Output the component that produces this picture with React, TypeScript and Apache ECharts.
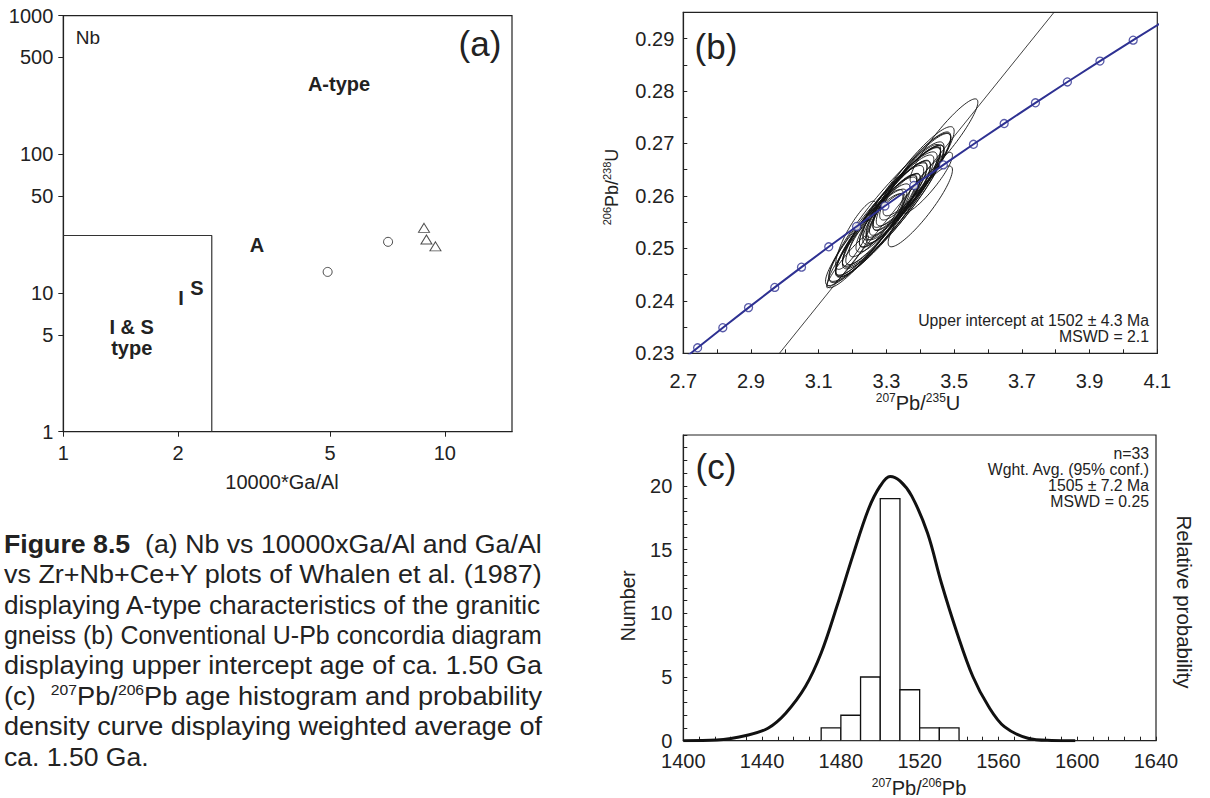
import React, { useEffect, useRef } from "react";
import * as echarts from "echarts";

// ---------- Panel (a): Nb vs 10000*Ga/Al (Whalen et al. 1987) ----------
const aCircleGaAl = [4.93, 7.1];
const aCircleNb = [14.2, 23.4];
const aTriangleGaAl = [8.82, 8.95, 9.45];
const aTriangleNb = [29.5, 24.3, 21.7];
const aFieldGaAl = [1, 2.45, 2.45];
const aFieldNb = [26, 26, 1];
const aXTicks = [1, 2, 5, 10];
const aYTicks = [1, 5, 10, 50, 100, 500, 1000];

// ---------- Panel (b): concordia ----------
const concordiaAge = [1330, 1340, 1360, 1380, 1400, 1420, 1440, 1460, 1480, 1500, 1520, 1540, 1560, 1580, 1600, 1620, 1640, 1660];
const concordiaPb207U235 = [2.7056, 2.7423, 2.8167, 2.8927, 2.9701, 3.0491, 3.1296, 3.2118, 3.2955, 3.381, 3.4681, 3.557, 3.6477, 3.7401, 3.8344, 3.9306, 4.0287, 4.1287];
const concordiaPb206U238 = [0.22914, 0.23105, 0.23488, 0.23871, 0.24256, 0.24642, 0.2503, 0.25418, 0.25808, 0.26199, 0.26591, 0.26984, 0.27379, 0.27775, 0.28172, 0.2857, 0.28969, 0.2937];
const concordiaLabelAges = [1400, 1460, 1560, 1600];
const discordiaPb207U235 = [2.984, 3.795];
const discordiaPb206U238 = [0.23, 0.295];
// error ellipses: centre x, centre y, half-extent in x, half-extent in y, correlation
const ellX = [3.24, 3.47, 3.42, 3.4, 3.21, 3.185, 3.27, 3.29, 3.31, 3.33, 3.32, 3.35, 3.3, 3.28, 3.34, 3.36, 3.25, 3.38, 3.31, 3.32, 3.36, 3.26, 3.32, 3.34, 3.29, 3.39, 3.24, 3.37, 3.3, 3.33, 3.27, 3.38, 3.33];
const ellY = [0.2515, 0.2705, 0.2625, 0.258, 0.2525, 0.2475, 0.2541, 0.2556, 0.2574, 0.2588, 0.2579, 0.2604, 0.2566, 0.2551, 0.2598, 0.2614, 0.2526, 0.2631, 0.2571, 0.2576, 0.2618, 0.2536, 0.2583, 0.26, 0.2562, 0.2642, 0.2521, 0.2626, 0.257, 0.2592, 0.2548, 0.2636, 0.259];
const ellSx = [0.115, 0.1, 0.075, 0.095, 0.06, 0.062, 0.12, 0.11, 0.14, 0.1, 0.15, 0.11, 0.09, 0.15, 0.12, 0.1, 0.1, 0.11, 0.16, 0.08, 0.13, 0.11, 0.07, 0.08, 0.12, 0.1, 0.12, 0.09, 0.17, 0.09, 0.08, 0.12, 0.11];
const ellSy = [0.009, 0.008, 0.0058, 0.0077, 0.0065, 0.005, 0.0095, 0.0087, 0.011, 0.008, 0.0118, 0.0088, 0.0073, 0.0116, 0.0095, 0.008, 0.0078, 0.0088, 0.0126, 0.0066, 0.0102, 0.0087, 0.0058, 0.0065, 0.0096, 0.008, 0.0092, 0.0072, 0.0133, 0.0071, 0.0064, 0.0096, 0.0088];
const ellRho = [0.93, 0.92, 0.9, 0.9, 0.85, 0.95, 0.9, 0.91, 0.91, 0.89, 0.92, 0.9, 0.88, 0.92, 0.91, 0.89, 0.9, 0.9, 0.93, 0.87, 0.91, 0.9, 0.86, 0.87, 0.91, 0.89, 0.91, 0.88, 0.93, 0.88, 0.87, 0.91, 0.9];

// ---------- Panel (c): 207Pb/206Pb histogram ----------
const binStart = [1470, 1480, 1490, 1500, 1510, 1520, 1530];
const binEnd = [1480, 1490, 1500, 1510, 1520, 1530, 1540];
const binCount = [1, 2, 5, 19, 4, 1, 1];
const probAge = [1400, 1417, 1433, 1443, 1452, 1462, 1470, 1478, 1486, 1494, 1500, 1505, 1510, 1516, 1524, 1531, 1539, 1547, 1555, 1563, 1575, 1587, 1599];
const probValue = [0, 0.05, 0.45, 0.98, 2.16, 4.25, 6.88, 10.55, 14.49, 18.17, 20.0, 20.74, 20.39, 19.2, 16.3, 12.4, 8.46, 5.04, 2.68, 1.1, 0.19, 0.02, 0];

const captionLines = [
  [{ t: "Figure 8.5", b: true }, { t: "  (a) Nb vs 10000xGa/Al and Ga/Al" }],
  [{ t: "vs Zr+Nb+Ce+Y plots of Whalen et al. (1987)" }],
  [{ t: "displaying A-type characteristics of the granitic" }],
  [{ t: "gneiss (b) Conventional U-Pb concordia diagram" }],
  [{ t: "displaying upper intercept age of ca. 1.50 Ga" }],
  [{ t: "(c)  " }, { t: "207", s: true }, { t: "Pb/" }, { t: "206", s: true }, { t: "Pb age histogram and probability" }],
  [{ t: "density curve displaying weighted average of" }],
  [{ t: "ca. 1.50 Ga." }],
];

const FONT = '"Liberation Sans", Arial, sans-serif';
const NARROW = '"Liberation Sans Narrow", "Liberation Sans", Arial, sans-serif';
const INK = "#222";

export default function App() {
  const ref = useRef<HTMLDivElement>(null);
  useEffect(() => {
    if (!ref.current) return;
    const chart = echarts.init(ref.current, null, { renderer: "svg" });
    const lg = (v: number) => Math.log10(v);

    const canvas = document.createElement("canvas");
    const ctx = canvas.getContext("2d")!;
    const measure = (t: string, size: number, bold: boolean) => {
      ctx.font = `${bold ? "bold " : ""}${size}px ${NARROW}`;
      return ctx.measureText(t).width;
    };
    const CAP_SIZE = 26, SUP_SIZE = 15;
    const capLeft = 4, capWidth = 538;
    const widths = captionLines.map((segs) =>
      segs.reduce((acc: number, s: any) => acc + measure(s.t, s.s ? SUP_SIZE : CAP_SIZE, !!s.b), 0)
    );
    const scales = widths.map((w) => capWidth / w);
    const baseScale = scales.slice(0, 7).reduce((a, b) => a + b, 0) / 7;
    const captionGraphics = captionLines.map((segs: any[], i) => ({
      type: "text",
      x: capLeft,
      y: 544 + i * 30.4,
      scaleX: i === captionLines.length - 1 ? baseScale : scales[i],
      style: {
        text: segs.map((s) => `{${s.b ? "b" : s.s ? "s" : "n"}|${s.t}}`).join(""),
        align: "left",
        verticalAlign: "middle",
        rich: {
          n: { fontFamily: NARROW, fontSize: CAP_SIZE, lineHeight: 28, fill: INK, verticalAlign: "middle" },
          b: { fontFamily: NARROW, fontSize: CAP_SIZE, fontWeight: "bold", lineHeight: 28, fill: INK, verticalAlign: "middle" },
          s: { fontFamily: NARROW, fontSize: SUP_SIZE, lineHeight: 17, fill: INK, verticalAlign: "top" },
        },
      },
    }));

    const txt = (x: number, y: number, text: string, size: number, extra: any = {}) => ({
      type: "text",
      x,
      y,
      rotation: extra.rotation || 0,
      style: {
        text,
        fontFamily: FONT,
        fontSize: size,
        fontWeight: extra.bold ? "bold" : "normal",
        fill: INK,
        align: extra.align || "center",
        verticalAlign: "middle",
        rich: extra.rich,
      },
    });

    const isoRich = (main: number, sup: number) => ({
      m: { fontFamily: FONT, fontSize: main, lineHeight: main + 3, fill: INK, verticalAlign: "middle" },
      s: { fontFamily: FONT, fontSize: sup, lineHeight: sup + 1, fill: INK, verticalAlign: "top" },
    });

    const axisLine = { show: true, lineStyle: { color: INK, width: 1.2 } };
    const labelBase = { fontFamily: FONT, fontSize: 20, color: INK };

    const ellipseData = ellX.map((x, i) => [x, ellY[i], ellSx[i], ellSy[i], ellRho[i]]);
    const concLine = concordiaAge.map((a, i) => [concordiaPb207U235[i], concordiaPb206U238[i]]);
    const concMarkers = concordiaAge
      .map((a, i) => [concordiaPb207U235[i], concordiaPb206U238[i], a])
      .filter((d) => d[2] >= 1340 && d[2] <= 1640);
    const concLabels = concMarkers.filter((d) => concordiaLabelAges.includes(d[2]));

    const option: any = {
      animation: false,
      backgroundColor: "#fff",
      grid: [
        { left: 63.3, top: 15.7, width: 448.7, height: 416, show: true, borderColor: INK, borderWidth: 1.2, backgroundColor: "transparent" },
        { left: 683.3, top: 12.3, width: 474, height: 341, show: true, borderColor: INK, borderWidth: 1.2, backgroundColor: "transparent" },
        { left: 683.3, top: 435, width: 472.7, height: 305.7, show: true, borderColor: INK, borderWidth: 1.2, backgroundColor: "transparent" },
      ],
      xAxis: [
        {
          gridIndex: 0, type: "value", min: 0, max: lg(15),
          axisLine, splitLine: { show: false },
          axisTick: { show: true, customValues: aXTicks.map(lg), length: 5, lineStyle: { color: INK } },
          axisLabel: { ...labelBase, margin: 11, customValues: aXTicks.map(lg), formatter: (v: number) => String(Math.round(Math.pow(10, v))) },
        },
        {
          gridIndex: 1, type: "value", min: 2.7, max: 4.1, interval: 0.1,
          axisLine, splitLine: { show: false },
          axisTick: { show: true, inside: true, length: 4, lineStyle: { color: INK } },
          axisLabel: { ...labelBase, margin: 18, formatter: (v: number) => (Math.round(v * 10) % 2 === 1 ? v.toFixed(1) : "") },
        },
        {
          gridIndex: 2, type: "value", min: 1400, max: 1640, interval: 8,
          axisLine, splitLine: { show: false },
          axisTick: { show: true, inside: true, length: 4, lineStyle: { color: INK } },
          axisLabel: { ...labelBase, margin: 10, formatter: (v: number) => (Math.round(v) % 40 === 0 ? String(Math.round(v)) : "") },
        },
      ],
      yAxis: [
        {
          gridIndex: 0, type: "value", min: 0, max: 3,
          axisLine, splitLine: { show: false },
          axisTick: { show: true, customValues: aYTicks.map(lg), length: 5, lineStyle: { color: INK } },
          axisLabel: { ...labelBase, margin: 10, customValues: aYTicks.map(lg), formatter: (v: number) => String(Math.round(Math.pow(10, v))) },
        },
        {
          gridIndex: 1, type: "value", min: 0.23, max: 0.295, interval: 0.005,
          axisLine, splitLine: { show: false },
          axisTick: { show: true, inside: true, length: 4, lineStyle: { color: INK } },
          axisLabel: { ...labelBase, margin: 9, formatter: (v: number) => (Math.round(v * 1000) % 10 === 0 ? v.toFixed(2) : "") },
        },
        {
          gridIndex: 2, type: "value", min: 0, max: 24, interval: 1,
          axisLine, splitLine: { show: false },
          axisTick: { show: true, inside: true, length: 4, lineStyle: { color: INK } },
          axisLabel: { ...labelBase, margin: 11, formatter: (v: number) => (Math.round(v) % 5 === 0 ? String(Math.round(v)) : "") },
        },
      ],
      series: [
        // (a)
        {
          type: "line", xAxisIndex: 0, yAxisIndex: 0, showSymbol: false,
          data: aFieldGaAl.map((g, i) => [lg(g), lg(aFieldNb[i])]),
          lineStyle: { color: "#333", width: 1.2 },
        },
        {
          type: "scatter", xAxisIndex: 0, yAxisIndex: 0, symbol: "circle", symbolSize: 9,
          data: aCircleGaAl.map((g, i) => [lg(g), lg(aCircleNb[i])]),
          itemStyle: { color: "#fff", borderColor: INK, borderWidth: 1 },
        },
        {
          type: "scatter", xAxisIndex: 0, yAxisIndex: 0, symbol: "triangle", symbolSize: [11, 9],
          data: aTriangleGaAl.map((g, i) => [lg(g), lg(aTriangleNb[i])]),
          itemStyle: { color: "#fff", borderColor: INK, borderWidth: 1 },
        },
        // (b)
        {
          type: "custom", xAxisIndex: 1, yAxisIndex: 1, clip: true,
          data: ellipseData, encode: { x: 0, y: 1 },
          renderItem: (params: any, api: any) => {
            const cx = api.value(0), cy = api.value(1), sx = api.value(2), sy = api.value(3), r = api.value(4);
            const q = Math.sqrt(1 - r * r);
            const pts: number[][] = [];
            for (let k = 0; k < 90; k++) {
              const t = (k / 90) * Math.PI * 2;
              pts.push(api.coord([cx + sx * Math.cos(t), cy + sy * (r * Math.cos(t) + q * Math.sin(t))]));
            }
            return { type: "polygon", shape: { points: pts }, style: { fill: "none", stroke: "#111", lineWidth: 0.9 } };
          },
        },
        {
          type: "line", xAxisIndex: 1, yAxisIndex: 1, showSymbol: false, clip: true,
          data: discordiaPb207U235.map((x, i) => [x, discordiaPb206U238[i]]),
          lineStyle: { color: "#111", width: 0.8 },
        },
        {
          type: "line", xAxisIndex: 1, yAxisIndex: 1, showSymbol: false, clip: true,
          data: concLine, lineStyle: { color: "#2e3192", width: 2 },
        },
        {
          type: "scatter", xAxisIndex: 1, yAxisIndex: 1, symbol: "circle", symbolSize: 8,
          data: concMarkers, itemStyle: { color: "#fff", borderColor: "#2e3192", borderWidth: 1.3 },
        },
        {
          type: "scatter", xAxisIndex: 1, yAxisIndex: 1, symbolSize: 0, silent: true,
          data: concLabels, itemStyle: { opacity: 0 },
          label: {
            show: true, position: [-5, -2], align: "right", verticalAlign: "bottom",
            fontFamily: FONT, fontSize: 14, color: "#333",
            formatter: (p: any) => String(p.value[2]),
          },
        },
        // (c)
        {
          type: "custom", xAxisIndex: 2, yAxisIndex: 2, clip: true,
          data: binStart.map((s, i) => [s, binEnd[i], binCount[i]]),
          encode: { x: [0, 1], y: 2 },
          renderItem: (params: any, api: any) => {
            const p0 = api.coord([api.value(0), api.value(2)]);
            const p1 = api.coord([api.value(1), 0]);
            return {
              type: "rect",
              shape: { x: p0[0], y: p0[1], width: p1[0] - p0[0], height: p1[1] - p0[1] },
              style: { fill: "#fff", stroke: "#111", lineWidth: 1.3 },
            };
          },
        },
        {
          type: "line", xAxisIndex: 2, yAxisIndex: 2, showSymbol: false, smooth: 0.35, clip: true,
          data: probAge.map((a, i) => [a, probValue[i]]),
          lineStyle: { color: "#111", width: 3 },
        },
      ],
      graphic: [
        // (a)
        txt(480, 43, "(a)", 35),
        txt(88, 37, "Nb", 19),
        txt(339, 83.5, "A-type", 20, { bold: true }),
        txt(257, 245, "A", 20, { bold: true }),
        txt(181, 298, "I", 20, { bold: true }),
        txt(197, 288, "S", 20, { bold: true }),
        txt(131.7, 326.7, "I & S", 20, { bold: true }),
        txt(131.7, 347.7, "type", 20, { bold: true }),
        txt(282, 482, "10000*Ga/Al", 20),
        // (b)
        txt(716, 46, "(b)", 35),
        txt(612, 187, "{s|206}{m|Pb/}{s|238}{m|U}", 18, { rotation: Math.PI / 2, rich: isoRich(18, 11) }),
        txt(918, 403, "{s|207}{m|Pb/}{s|235}{m|U}", 20, { rich: isoRich(20, 12) }),
        txt(1149, 320, "Upper intercept at 1502 ± 4.3 Ma", 15.8, { align: "right" }),
        txt(1149, 336, "MSWD = 2.1", 15.8, { align: "right" }),
        // (c)
        txt(716, 466, "(c)", 35),
        txt(1149, 453.5, "n=33", 15.8, { align: "right" }),
        txt(1149, 469.3, "Wght. Avg. (95% conf.)", 15.8, { align: "right" }),
        txt(1149, 485.2, "1505 ± 7.2 Ma", 15.8, { align: "right" }),
        txt(1149, 501, "MSWD = 0.25", 15.8, { align: "right" }),
        txt(628, 606, "Number", 20, { rotation: Math.PI / 2 }),
        txt(1184, 602, "Relative probability", 20.5, { rotation: -Math.PI / 2 }),
        txt(919, 788, "{s|207}{m|Pb/}{s|206}{m|Pb}", 20, { rich: isoRich(20, 12) }),
        // caption
        ...captionGraphics,
      ],
    };
    chart.setOption(option);
    return () => chart.dispose();
  }, []);
  return (
    <div
      ref={ref}
      style={{ position: "fixed", left: 0, top: 0, width: 1210, height: 798, background: "#fff" }}
    />
  );
}
